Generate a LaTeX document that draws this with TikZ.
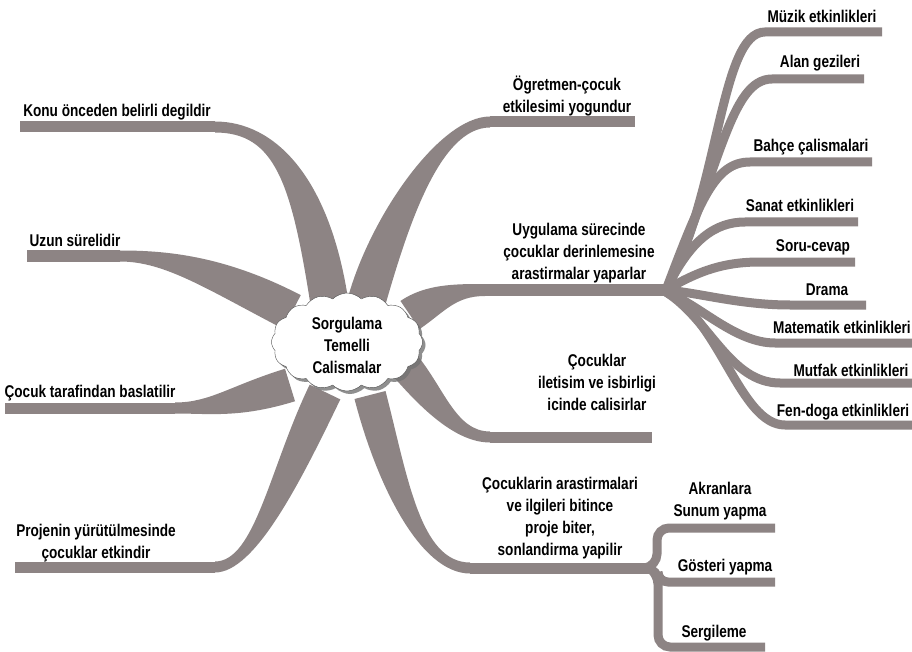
\documentclass[tikz,border=0pt]{standalone}
\usepackage{fontspec}
\setmainfont[FakeStretch=0.8]{Liberation Sans}
\usetikzlibrary{calc,shapes.symbols,shadows}
\definecolor{brc}{RGB}{141,132,132}
\tikzset{
  brfill/.style={fill=brc},
  brline/.style={draw=brc,line width=11pt},
  subline/.style={draw=brc,line width=9pt},
  lbl/.style={font=\fontsize{17}{22}\selectfont\bfseries,align=center,inner sep=0pt,text=black},
}
\newcommand\mbranch[6]{%
  \fill[brfill] ($(#1)!#5!90:(#2)$) .. controls ($(#2)!#5!-90:(#1)$) and ($(#3)!#6!90:(#4)$) .. ($(#4)!#6!-90:(#3)$)
   -- ($(#4)!#6!90:(#3)$) .. controls ($(#3)!#6!-90:(#4)$) and ($(#2)!#5!90:(#1)$) .. ($(#1)!#5!-90:(#2)$) -- cycle;}
\begin{document}
\begin{tikzpicture}[x=1pt,y=-1pt]
\useasboundingbox[fill=white] (0,0) rectangle (912,652);
\coordinate (c) at (347,342);
% ---- main branches
\mbranch{329,300}{310,180}{275,127}{215,127}{19pt}{5.5pt}
\draw[brline] (215,127) -- (20,127);
\mbranch{292,312}{215,272}{165,256}{120,256}{19pt}{5.5pt}
\draw[brline] (120,256) -- (27,256);
\mbranch{290,385}{235,402}{210,408}{175,408}{17pt}{5.5pt}
\draw[brline] (175,408) -- (5,408);
\mbranch{325,392}{285,475}{255,567}{215,567}{17pt}{5.5pt}
\draw[brline] (215,567) -- (15,567);
\mbranch{367,300}{390,220}{440,122}{490,122}{19pt}{5.5pt}
\draw[brline] (490,122) -- (635,122);
\mbranch{410,315}{435,298}{455,290}{485,290}{17pt}{6pt}
\draw[brline,line width=12pt] (485,290) -- (668,290);
\mbranch{402,362}{432,397}{455,437}{490,437}{16pt}{5.5pt}
\draw[brline] (490,437) -- (652,437);
\mbranch{370,395}{392,480}{420,568}{470,568}{16pt}{5.5pt}
\draw[brline] (470,568) -- (655,568);
% ---- sub branches right
\draw[subline] (666,290) .. controls (720,190) and (720,32) .. (765,32) -- (882,32);
\draw[subline] (666,290) .. controls (720,170) and (730,79) .. (772,79) -- (864,79);
\draw[subline] (666,290) .. controls (700,200) and (715,162) .. (750,162) -- (872,162);
\draw[subline] (666,290) .. controls (690,240) and (715,222) .. (745,222) -- (858,222);
\draw[subline] (666,290) .. controls (700,270) and (725,262) .. (760,262) -- (855,262);
\draw[subline] (666,290) .. controls (700,293) and (740,305) .. (790,305) -- (866,305);
\draw[subline] (666,292) .. controls (700,305) and (735,343) .. (775,343) -- (912,343);
\draw[subline] (666,292) .. controls (710,320) and (730,383) .. (780,383) -- (912,383);
\draw[subline] (666,292) .. controls (720,320) and (740,425) .. (785,425) -- (912,425);
% ---- sub branches bottom
\draw[subline,rounded corners=12pt] (645,568) -- (657,566) -- (657,528) -- (775,528);
\draw[subline,rounded corners=10pt] (645,568) -- (658,570) -- (658,582) -- (775,582);
\draw[subline,rounded corners=12pt] (650,568) -- (658,572) -- (658,647) -- (765,647);
% ---- centre cloud
\node[cloud,draw=black!70,fill=white,cloud puffs=16,cloud puff arc=90,aspect=1.55,
  minimum width=151pt,minimum height=98pt,inner sep=0pt,
  drop shadow={shadow xshift=3pt,shadow yshift=-3pt,fill=black!55,opacity=0.8}] (cl) at (c) {};
\node[lbl] (ct) at (347,345) {Sorgulama\\Temelli\\Calismalar};
% ---- labels
\node[lbl] (t1) at (117,112) {Konu önceden belirli degildir};
\node[lbl] (t2) at (75,240) {Uzun sürelidir};
\node[lbl] (t3) at (90,393) {Çocuk tarafindan baslatilir};
\node[lbl] (t4) at (96,543) {Projenin yürütülmesinde\\çocuklar etkindir};
\node[lbl] (t5) at (567,96) {Ögretmen-çocuk\\etkilesimi yogundur};
\node[lbl] (t6) at (579,253) {Uygulama sürecinde\\çocuklar derinlemesine\\arastirmalar yaparlar};
\node[lbl] (t7) at (597,382) {Çocuklar\\iletisim ve isbirligi\\icinde calisirlar};
\node[lbl] (t8) at (560,518) {Çocuklarin arastirmalari\\ve ilgileri bitince\\proje biter,\\sonlandirma yapilir};
\node[lbl] (s1) at (822,16) {Müzik etkinlikleri};
\node[lbl] (s2) at (820,63) {Alan gezileri};
\node[lbl] (s3) at (811,147) {Bahçe çalismalari};
\node[lbl] (s4) at (800,205) {Sanat etkinlikleri};
\node[lbl] (s5) at (813,247) {Soru-cevap};
\node[lbl] (s6) at (827,290) {Drama};
\node[lbl] (s7) at (842,327) {Matematik etkinlikleri};
\node[lbl] (s8) at (851,370) {Mutfak etkinlikleri};
\node[lbl] (s9) at (843,412) {Fen-doga etkinlikleri};
\node[lbl] (b1) at (720,501) {Akranlara\\Sunum yapma};
\node[lbl] (b2) at (725,567) {Gösteri yapma};
\node[lbl] (b3) at (714,633) {Sergileme};
\end{tikzpicture}
\end{document}
